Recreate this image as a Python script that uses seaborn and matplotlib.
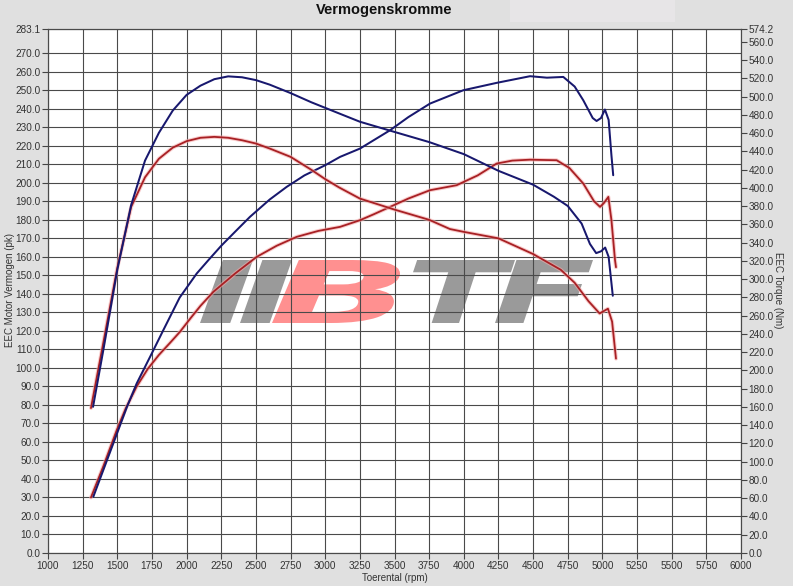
import numpy as np
import pandas as pd
import matplotlib
matplotlib.use("Agg")
import matplotlib.pyplot as plt
import seaborn as sns
from matplotlib.textpath import TextPath
from matplotlib.patches import PathPatch, Rectangle
from matplotlib.font_manager import FontProperties
from matplotlib.transforms import Affine2D
import matplotlib.patheffects as pe

# ---------------- data ----------------
# Power (pk), blue run
pow_blue_rpm = [1327, 1400, 1500, 1570, 1640, 1750, 1832, 1950, 2073, 2157, 2250, 2361, 2457, 2600, 2722, 2850,
                3000, 3107, 3251, 3468, 3600, 3756, 3996, 4237, 4478, 4600, 4718, 4800, 4862, 4930, 4958,
                4990, 5018, 5045, 5065, 5078]
pow_blue_pk = [30.4, 45, 65, 79, 91.6, 108, 120.4, 138, 151, 158.2, 166, 174.4, 181.6, 191, 197.8, 204,
               209.5, 214, 218.5, 228.4, 235.5, 242.8, 250, 254, 257.6, 256.8, 257.2, 252, 244.6, 235, 233.4,
               235, 239.6, 234, 215, 204.1]
# Power (pk), red run
pow_red_rpm = [1310, 1400, 1496, 1560, 1640, 1720, 1800, 1880, 1952, 2030, 2100, 2193, 2350, 2506, 2650, 2794,
               2950, 3107, 3251, 3350, 3468, 3600, 3756, 3948, 4100, 4237, 4350, 4478, 4600, 4670, 4762,
               4862, 4940, 4983, 5010, 5043, 5065, 5091, 5098]
pow_red_pk = [30, 47, 66.4, 78, 90, 99.5, 107, 113.5, 119.5, 127, 133.5, 141.1, 151, 160, 166, 170.8,
              174, 176.2, 179.8, 183, 187, 191.5, 196, 198.7, 204, 210.4, 212, 212.5, 212.3, 212.2, 208,
              199.6, 190, 187, 189, 192.4, 180, 158.2, 154.4]
# Torque (Nm), blue run
trq_blue_rpm = [1325, 1400, 1500, 1600, 1700, 1800, 1900, 2000, 2100, 2200, 2300, 2400, 2500, 2600, 2750,
                2900, 3000, 3100, 3250, 3500, 3750, 4000, 4250, 4500, 4650, 4750, 4850, 4910, 4955, 4990,
                5020, 5045, 5075]
trq_blue_nm = [160.2, 223.1, 310.3, 381.3, 430.0, 460.4, 484.8, 502.0, 512.1, 519.2, 522.3, 521.3, 518.2, 513.2, 504.0,
               493.9, 487.8, 481.7, 472.6, 461.4, 450.3, 437.1, 418.8, 403.6, 390.4, 380.3, 361.0, 338.7, 328.6, 330.6,
               334.7, 324.5, 281.9]
# Torque (Nm), red run
trq_red_rpm = [1310, 1400, 1500, 1600, 1700, 1800, 1900, 2000, 2100, 2200, 2300, 2400, 2500, 2600, 2750,
               2900, 3000, 3100, 3250, 3500, 3750, 3900, 4000, 4250, 4500, 4700, 4800, 4900, 4980, 5040,
               5070, 5098]
trq_red_nm = [158.8, 231.2, 312.4, 379.3, 411.7, 432.0, 444.2, 451.3, 455.0, 456.0, 455.0, 452.3, 448.7, 443.2, 434.1,
              419.9, 409.7, 400.6, 388.4, 376.3, 365.1, 355.0, 351.9, 344.8, 327.6, 310.3, 296.1, 275.9, 262.5, 267.7,
              253.5, 213.0]

x_ticks = list(range(1000, 6001, 250))
left_ticks = [float(v) for v in range(0, 271, 10)] + [283.1]
right_ticks = [float(v) for v in range(0, 561, 20)] + [574.2]

title = "Vermogenskromme"
xlabel = "Toerental (rpm)"
ylabel_left = "EEC Motor Vermogen (pk)"
ylabel_right = "EEC Torque (Nm)"

# ---------------- style ----------------
sns.set_theme(style="white")
plt.rcParams["font.family"] = ["Liberation Sans", "DejaVu Sans"]

BLUE = "#18186e"
RED = "#a82024"
BG = "#e0e0e0"
GRID = "#4a4a4a"

W, H = 793, 586
fig = plt.figure(figsize=(W / 100, H / 100), dpi=100, facecolor=BG)
L, R, T, B = 48, 741, 29, 553
ax = fig.add_axes([L / W, (H - B) / H, (R - L) / W, (B - T) / H])
ax.set_facecolor("white")
ax2 = ax.twinx()

df_pb = pd.DataFrame({"rpm": pow_blue_rpm, "val": pow_blue_pk})
df_pr = pd.DataFrame({"rpm": pow_red_rpm, "val": pow_red_pk})
df_tb = pd.DataFrame({"rpm": trq_blue_rpm, "val": trq_blue_nm})
df_tr = pd.DataFrame({"rpm": trq_red_rpm, "val": trq_red_nm})

halo = [pe.Stroke(linewidth=2.8, foreground="#f4aaaa", alpha=0.6), pe.Normal()]

sns.lineplot(data=df_pr, x="rpm", y="val", ax=ax, color=RED, lw=1.3, sort=False, zorder=3)
ax.lines[-1].set_path_effects(halo)
sns.lineplot(data=df_pb, x="rpm", y="val", ax=ax, color=BLUE, lw=1.45, sort=False, zorder=3)
sns.lineplot(data=df_tr, x="rpm", y="val", ax=ax2, color=RED, lw=1.3, sort=False, zorder=3)
ax2.lines[-1].set_path_effects(halo)
sns.lineplot(data=df_tb, x="rpm", y="val", ax=ax2, color=BLUE, lw=1.45, sort=False, zorder=3)

ax.set_xlim(1000, 6000)
ax.set_ylim(0, 283.1)
ax2.set_ylim(0, 574.2)

ax.set_xticks(x_ticks)
ax.set_xticklabels([str(v) for v in x_ticks])
ax.set_yticks(left_ticks)
ax.set_yticklabels([f"{v:.1f}" for v in left_ticks])
ax2.set_yticks(right_ticks)
ax2.set_yticklabels([f"{v:.1f}" for v in right_ticks])

for a in (ax, ax2):
    a.tick_params(axis="both", which="major", labelsize=7.2, labelcolor="#333333",
                  color="#444444", length=4, width=0.8, direction="out", pad=1.5)
    for s in a.spines.values():
        s.set_color(GRID)
        s.set_linewidth(0.8)
ax.tick_params(axis="y", left=True, right=False)
ax.tick_params(axis="x", bottom=True)
ax2.tick_params(axis="y", right=True, left=False)

ax.set_axisbelow("line")
ax.grid(True, color=GRID, lw=0.8)
ax2.grid(False)

ax.set_xlabel("")
ax.set_ylabel("")
ax2.set_ylabel("")

fig.text(384 / W, 1 - 10 / H, title, ha="center", va="center", fontsize=10.5,
         fontweight="bold", color="#111111")
fig.text(395 / W, 1 - 578 / H, xlabel, ha="center", va="center", fontsize=7, color="#333333")
fig.text(10 / W, 1 - 290 / H, ylabel_left, ha="center", va="center", rotation=90,
         fontsize=7, color="#333333")
fig.text(778 / W, 1 - 290 / H, ylabel_right, ha="center", va="center", rotation=-90,
         fontsize=7, color="#333333")

# light panel near title
fig.patches.append(Rectangle((510 / W, 1 - 22 / H), 165 / W, 22 / H, transform=fig.transFigure,
                             facecolor="#e7e5e7", edgecolor="none", zorder=0))

# watermark logo
fp = FontProperties(family="DejaVu Sans", weight="bold", style="oblique")


def logo_letter(s, x0, x1, ytop, ybot, color):
    tp = TextPath((0, 0), s, size=100, prop=fp)
    bb = tp.get_extents()
    sx = (x1 - x0) / bb.width
    sy = (ybot - ytop) / bb.height
    tr = (Affine2D().translate(-bb.x0, -bb.y0).scale(sx / W, sy / H)
          .translate(x0 / W, (H - ybot) / H) + fig.transFigure)
    p = PathPatch(tp, transform=tr, facecolor=color, edgecolor="none", zorder=1)
    ax.add_patch(p)


logo_letter("I", 200, 253, 260, 323, "#9a9a9a")
logo_letter("I", 240, 292, 260, 323, "#9a9a9a")
logo_letter("B", 272, 400, 260, 323, "#ff9090")
logo_letter("T", 413, 515, 260, 323, "#9a9a9a")
logo_letter("F", 495, 593, 260, 323, "#9a9a9a")

fig.savefig("out.png", dpi=100, facecolor=BG)
